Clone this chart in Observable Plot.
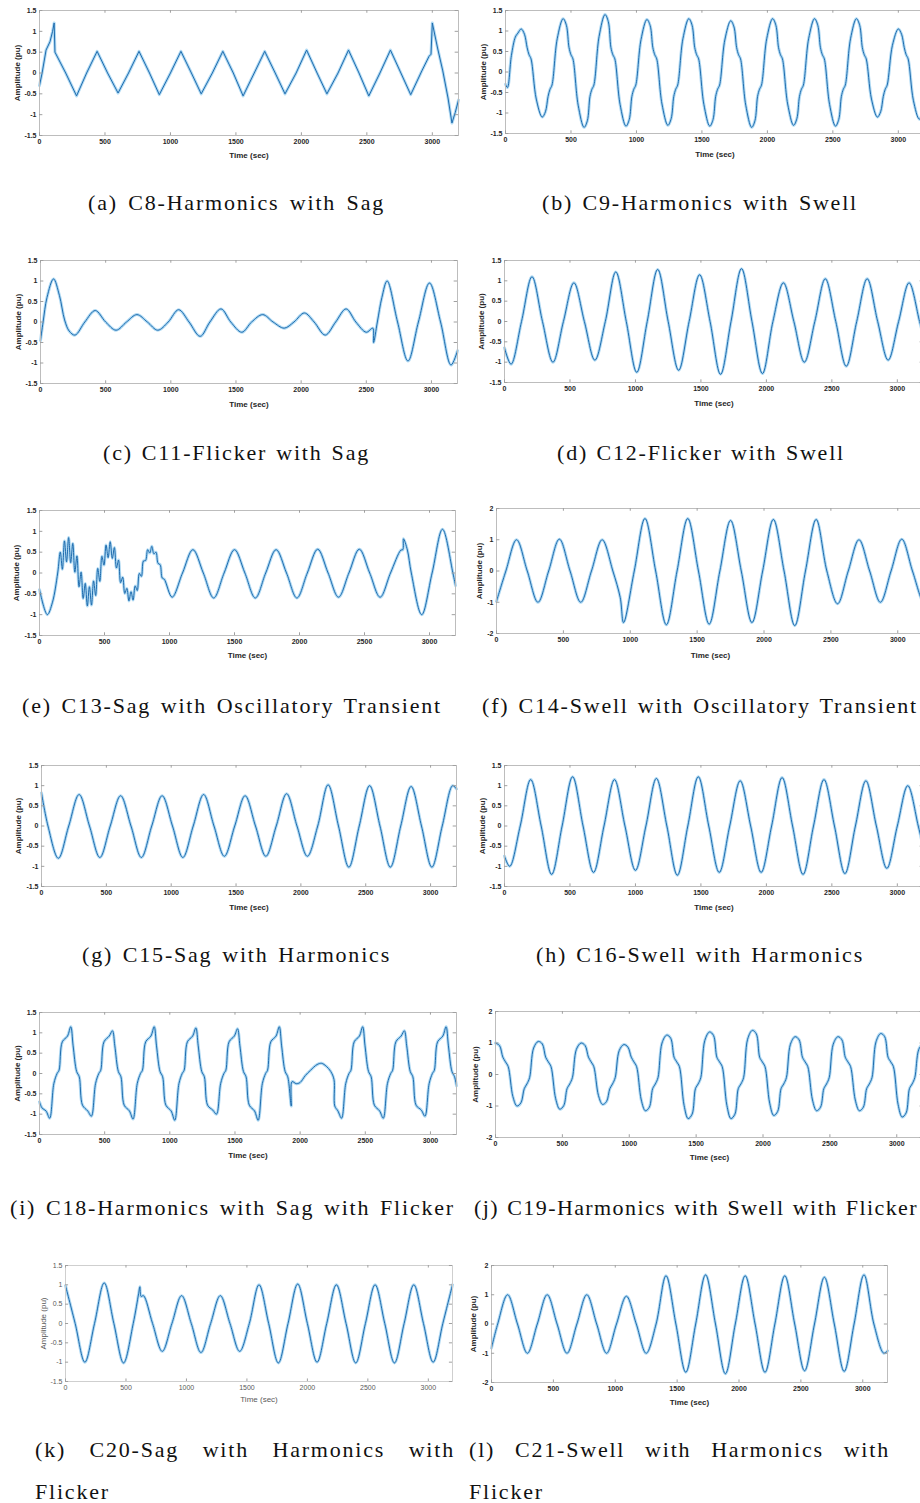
<!DOCTYPE html>
<html><head><meta charset="utf-8">
<script src="https://cdn.jsdelivr.net/npm/d3@7"></script>
<script src="https://cdn.jsdelivr.net/npm/@observablehq/plot@0.6"></script>
<style>
html,body{margin:0;padding:0;background:#fff;}
#fig{position:relative;width:920px;height:1503px;overflow:hidden;background:#fff;}
.panel{position:absolute;overflow:hidden;}
.cap{position:absolute;font-family:"Liberation Serif","Times New Roman",serif;font-size:22px;letter-spacing:1.8px;line-height:24px;color:#111;text-align:justify;text-align-last:justify;}
.cap.left{text-align:left;text-align-last:left;}
</style></head><body><div id="fig"></div>
<script>
// ---- tick labels ----
const xTicks = [0, 500, 1000, 1500, 2000, 2500, 3000];
const yTicks15 = [-1.5, -1, -0.5, 0, 0.5, 1, 1.5];
const yTicks2 = [-2, -1, 0, 1, 2];
const xLabel = "Time (sec)";
const yLabel = "Amplitude (pu)";

// ---- (a) C8 Harmonics with Sag ----
const aT = [0,20,50,80,100,112,118,200,283,360,440,520,600,680,760,840,915,1000,1080,1160,1235,1320,1400,1480,1555,1640,1720,1800,1875,1960,2040,2120,2195,2280,2360,2440,2515,2600,2680,2760,2835,2920,2975,2990,3000,3040,3080,3120,3150,3175,3200];
const aV = [-0.3,0,0.55,0.75,1.0,1.2,0.5,0,-0.55,0,0.52,0,-0.48,0,0.52,0,-0.52,0,0.52,0,-0.5,0,0.52,0,-0.55,0,0.52,0,-0.5,0,0.55,0,-0.5,0,0.55,0,-0.55,0,0.55,0,-0.52,0.05,0.4,0.45,1.2,0.6,0.05,-0.6,-1.2,-0.95,-0.65];

// ---- (b) C9 Harmonics with Swell ----
const bT = [0,15,45,75,95,
 120,145,165,180,195,235,280,305,325,340,355,395,
 440,465,485,500,515,555,600,625,645,660,675,715,
 760,785,805,820,835,875,920,945,965,980,995,1035,
 1080,1105,1125,1140,1155,1195,1240,1265,1285,1300,1315,1355,
 1400,1425,1445,1460,1475,1515,1560,1585,1605,1620,1635,1675,
 1720,1745,1765,1780,1795,1835,1880,1905,1925,1940,1955,1995,
 2040,2065,2085,2100,2115,2155,2200,2225,2245,2260,2275,2315,
 2360,2385,2405,2420,2435,2475,2520,2545,2565,2580,2595,2635,
 2680,2705,2725,2740,2755,2795,2840,2865,2885,2900,2915,2955,
 3000,3025,3045,3060,3075,3115,3160,3185,3200];
const bV = [-0.3,-0.38,0.4,0.85,0.95,
 1.05,0.92,0.6,0.42,0.32,-0.66,-1.1,-0.97,-0.6,-0.42,-0.32,0.81,
 1.3,1.14,0.6,0.42,0.32,-0.81,-1.35,-1.19,-0.6,-0.42,-0.32,0.87,
 1.4,1.23,0.6,0.42,0.32,-0.79,-1.32,-1.16,-0.6,-0.42,-0.32,0.79,
 1.28,1.13,0.6,0.42,0.32,-0.78,-1.3,-1.14,-0.6,-0.42,-0.32,0.81,
 1.3,1.14,0.6,0.42,0.32,-0.79,-1.32,-1.16,-0.6,-0.42,-0.32,0.78,
 1.25,1.1,0.6,0.42,0.32,-0.81,-1.35,-1.19,-0.6,-0.42,-0.32,0.81,
 1.3,1.14,0.6,0.42,0.32,-0.78,-1.3,-1.14,-0.6,-0.42,-0.32,0.81,
 1.3,1.14,0.6,0.42,0.32,-0.79,-1.32,-1.16,-0.6,-0.42,-0.32,0.81,
 1.3,1.14,0.6,0.42,0.32,-0.66,-1.1,-0.97,-0.6,-0.42,-0.32,0.65,
 1.05,0.92,0.6,0.42,0.32,-0.69,-1.15,-1.01,-0.8];

// ---- (c) C11 Flicker with Sag ----
const cT = [0,20,50,100,145,185,220,265,340,420,500,580,660,740,820,900,980,1060,1140,1225,1300,1385,1460,1545,1620,1705,1785,1870,1945,2025,2100,2185,2265,2345,2420,2500,2550,2556,2585,2620,2660,2740,2820,2900,2985,3070,3150,3200];
const cV = [-0.45,0,0.6,1.05,0.65,0.05,-0.22,-0.32,0,0.28,0,-0.2,0,0.18,0,-0.2,0,0.3,0,-0.35,0,0.32,0,-0.25,0,0.18,0,-0.15,0,0.22,0,-0.32,0,0.32,0,-0.25,-0.15,-0.5,0,0.6,1.0,0,-0.95,0,0.95,0,-1.05,-0.7];

// ---- (d) C12 Flicker with Swell ----
const dT = [0,50,130,210,290,370,450,530,610,690,770,850,930,1010,1090,1170,1250,1330,1410,1490,1570,1650,1730,1810,1890,1970,2050,2130,2210,2290,2370,2450,2530,2610,2690,2770,2850,2930,3010,3090,3170,3200];
const dV = [-0.65,-1.05,0,1.1,0,-1.0,0,0.95,0,-0.95,0,1.22,0,-1.25,0,1.28,0,-1.2,0,1.15,0,-1.3,0,1.3,0,-1.28,0,0.95,0,-1.0,0,1.05,0,-1.1,0,1.05,0,-0.95,0,0.95,0,-0.35];

// ---- (e) C13 Sag with Oscillatory Transient ----
const eT = [0,60,100,140,
 160,176,192,208,224,240,256,272,288,304,
 320,336,352,368,384,400,416,432,448,464,
 480,496,512,528,544,560,576,592,608,624,
 640,656,672,688,704,720,736,752,768,784,
 800,816,832,848,864,880,896,912,928,944,960,
 1020,1100,1180,1260,1340,1420,1500,1580,1660,1740,1820,1900,1980,2060,2140,2220,2300,2380,2460,2540,2620,2700,2780,
 2795,2800,2830,2860,2940,3020,3100,3180,3200];
const eV = [-0.4,-1.0,-0.7,0,
 0.50,0.09,0.77,0.27,0.85,0.25,0.71,0.02,0.41,-0.33,
 0.02,-0.61,-0.25,-0.79,-0.33,-0.77,-0.19,-0.54,0.11,-0.20,
 0.40,0.19,0.67,0.37,0.75,0.35,0.61,0.12,0.31,-0.23,
 -0.10,-0.49,-0.37,-0.67,-0.45,-0.65,-0.31,-0.42,-0.01,-0.08,
 0.29,0.30,0.56,0.48,0.64,0.46,0.50,0.23,0.20,-0.12,-0.15,
 -0.58,0,0.56,0,-0.6,0,0.56,0,-0.6,0,0.56,0,-0.6,0,0.57,0,-0.58,0,0.57,0,-0.58,0,0.55,
 0.56,0.82,0.55,0,-1.0,0,1.05,0,-0.3];

// ---- (f) C14 Swell with Oscillatory Transient ----
const fT = [0,70,150,230,310,390,470,550,630,710,790,870,925,950,1030,1110,1190,1270,1350,1430,1510,1590,1670,1750,1830,1910,1990,2070,2150,2230,2310,2390,2470,2550,2630,2710,2790,2870,2950,3030,3110,3190,3200];
const fV = [-0.97,0,1.0,0,-1.0,0,1.02,0,-1.0,0,1.0,0,-0.85,-1.65,0,1.68,0,-1.72,0,1.68,0,-1.7,0,1.62,0,-1.65,0,1.65,0,-1.75,0,1.65,0,-1.05,0,1.0,0,-1.0,0,1.02,0,-1.0,-0.98];

// ---- (g) C15 Sag with Harmonics ----
const gT = [0,50,130,210,290,370,450,530,610,690,770,850,930,1010,1090,1170,1250,1330,1410,1490,1570,1650,1730,1810,1890,1970,2050,2130,2210,2290,2370,2450,2530,2610,2690,2770,2850,2930,3010,3090,3170,3200];
const gV = [0.82,0,-0.8,0,0.78,0,-0.78,0,0.75,0,-0.78,0,0.75,0,-0.78,0,0.78,0,-0.75,0,0.75,0,-0.75,0,0.8,0,-0.75,0,1.02,0,-1.02,0,1.0,0,-1.02,0,0.98,0,-1.02,0,1.0,0.92];

// ---- (h) C16 Swell with Harmonics ----
const hT = [0,40,120,200,280,360,440,520,600,680,760,840,920,1000,1080,1160,1240,1320,1400,1480,1560,1640,1720,1800,1880,1960,2040,2120,2200,2280,2360,2440,2520,2600,2680,2760,2840,2920,3000,3080,3160,3200];
const hV = [-0.75,-1.0,0,1.15,0,-1.2,0,1.22,0,-1.15,0,1.15,0,-1.1,0,1.18,0,-1.22,0,1.22,0,-1.15,0,1.12,0,-1.15,0,1.2,0,-1.2,0,1.15,0,-1.18,0,1.12,0,-1.05,0,1.0,0,-0.55];

// ---- (i) C18 Harmonics with Sag with Flicker ----
const iT = [0,20,50,78,110,135,150,175,215,
 240,258,285,305,330,370,398,430,455,470,495,535,
 560,578,605,625,650,690,718,750,775,790,815,855,
 880,898,925,945,970,1010,1038,1070,1095,1110,1135,1175,
 1200,1218,1245,1265,1290,1330,1358,1390,1415,1430,1455,1495,
 1520,1538,1565,1585,1610,1650,1678,1710,1735,1750,1775,1815,
 1840,1858,1885,1905,1932,
 1938,1970,2000,2040,2080,2130,2165,2200,2235,2260,
 2266,2290,2318,2350,2375,2390,2415,2455,
 2480,2498,2525,2545,2570,2610,2638,2670,2695,2710,2735,2775,
 2800,2818,2845,2865,2890,2930,2958,2990,3015,3030,3055,3095,
 3120,3138,3165,3185,3200];
const iV = [-0.7,-0.85,-0.92,-1.1,-0.25,0.0,0.08,0.78,0.92,
 1.15,0.68,0.05,-0.08,-0.78,-0.92,-1.05,-0.25,0.0,0.08,0.78,0.92,
 1.05,0.68,0.05,-0.08,-0.78,-0.92,-1.12,-0.25,0.0,0.08,0.78,0.92,
 1.15,0.68,0.05,-0.08,-0.78,-0.92,-1.15,-0.25,0.0,0.08,0.78,0.92,
 1.12,0.68,0.05,-0.08,-0.78,-0.9,-1.0,-0.25,0.0,0.08,0.78,0.92,
 1.1,0.68,0.05,-0.08,-0.78,-0.92,-1.15,-0.25,0.0,0.08,0.78,0.92,
 1.15,0.68,0.05,-0.08,-0.8,
 -0.2,-0.25,-0.22,-0.05,0.08,0.22,0.25,0.18,0.05,-0.15,
 -0.8,-0.92,-1.1,-0.25,0.0,0.08,0.78,0.92,
 1.15,0.68,0.05,-0.08,-0.78,-0.92,-1.1,-0.25,0.0,0.08,0.78,0.92,
 1.05,0.68,0.05,-0.08,-0.78,-0.9,-1.05,-0.25,0.0,0.08,0.78,0.92,
 1.15,0.68,0.05,-0.08,-0.3];

// ---- (j) C19 Harmonics with Swell with Flicker ----
const jT = [0,30,55,75,95,130,160,190,215,235,255,285,
 320,350,375,395,415,450,480,510,535,555,575,605,
 640,670,695,715,735,770,800,830,855,875,895,925,
 960,990,1015,1035,1055,1090,1120,1150,1175,1195,1215,1245,
 1280,1310,1335,1355,1375,1410,1440,1470,1495,1515,1535,1565,
 1600,1630,1655,1675,1695,1730,1760,1790,1815,1835,1855,1885,
 1920,1950,1975,1995,2015,2050,2080,2110,2135,2155,2175,2205,
 2240,2270,2295,2315,2335,2370,2400,2430,2455,2475,2495,2525,
 2560,2590,2615,2635,2655,2690,2720,2750,2775,2795,2815,2845,
 2880,2910,2935,2955,2975,3010,3040,3070,3095,3115,3135,3165,
 3200];
const jV = [1.0,0.92,0.55,0.4,0.25,-0.7,-1.0,-0.9,-0.45,-0.3,-0.1,0.84,
 1.05,0.97,0.55,0.4,0.25,-0.77,-1.1,-0.99,-0.45,-0.3,-0.1,0.8,
 1.0,0.92,0.55,0.4,0.25,-0.67,-0.95,-0.86,-0.45,-0.3,-0.1,0.76,
 0.95,0.87,0.55,0.4,0.25,-0.81,-1.15,-1.04,-0.45,-0.3,-0.1,1.0,
 1.25,1.15,0.55,0.4,0.25,-0.98,-1.4,-1.26,-0.45,-0.3,-0.1,1.08,
 1.35,1.24,0.55,0.4,0.25,-0.98,-1.4,-1.26,-0.45,-0.3,-0.1,1.12,
 1.4,1.29,0.55,0.4,0.25,-0.91,-1.3,-1.17,-0.45,-0.3,-0.1,0.96,
 1.2,1.1,0.55,0.4,0.25,-0.81,-1.15,-1.04,-0.45,-0.3,-0.1,0.96,
 1.2,1.1,0.55,0.4,0.25,-0.81,-1.15,-1.04,-0.45,-0.3,-0.1,1.04,
 1.3,1.2,0.55,0.4,0.25,-0.95,-1.35,-1.22,-0.45,-0.3,-0.1,0.8,
 1.0];

// ---- (k) C20 Sag with Harmonics with Flicker ----
const kT = [0,80,160,240,320,400,480,560,605,615,625,645,720,800,880,960,1040,1120,1200,1280,1360,1440,1520,1600,1680,1760,1840,1920,2000,2080,2160,2240,2320,2400,2480,2560,2640,2720,2800,2880,2960,3040,3120,3200];
const kV = [0.98,0,-1.0,0,1.05,0,-1.02,0,0.78,0.95,0.7,0.72,0,-0.72,0,0.72,0,-0.75,0,0.72,0,-0.72,0,1.0,0,-1.02,0,1.02,0,-1.0,0,1.0,0,-1.02,0,1.0,0,-1.02,0,1.0,0,-1.0,0,1.0];

// ---- (l) C21 Swell with Harmonics with Flicker ----
const lT = [0,50,130,210,290,370,450,530,610,690,770,850,930,1010,1090,1170,1250,1330,1410,1490,1570,1650,1730,1810,1890,1970,2050,2130,2210,2290,2370,2450,2530,2610,2690,2770,2850,2930,3010,3090,3170,3200];
const lV = [-0.82,0,1.0,0,-1.0,0,1.0,0,-1.0,0,1.0,0,-1.0,0,0.95,0,-1.0,0,1.65,0,-1.65,0,1.68,0,-1.7,0,1.65,0,-1.65,0,1.65,0,-1.6,0,1.6,0,-1.62,0,1.68,0,-1.0,-0.92];

// ---- captions ----
const captions = [
  {text:"(a) C8-Harmonics with Sag", left:88, width:297, top:191},
  {text:"(b) C9-Harmonics with Swell", left:542, width:316, top:191},
  {text:"(c) C11-Flicker with Sag", left:103, width:267, top:441},
  {text:"(d) C12-Flicker with Swell", left:557, width:288, top:441},
  {text:"(e) C13-Sag with Oscillatory Transient", left:22, width:420, top:694},
  {text:"(f) C14-Swell with Oscillatory Transient", left:482, width:436, top:694},
  {text:"(g) C15-Sag with Harmonics", left:82, width:309, top:943},
  {text:"(h) C16-Swell with Harmonics", left:536, width:328, top:943},
  {text:"(i) C18-Harmonics with Sag with Flicker", left:10, width:445, top:1196},
  {text:"(j) C19-Harmonics with Swell with Flicker", left:474, width:444, top:1196, ls:"1.4px"},
  {text:"(k) C20-Sag with Harmonics with", left:35, width:420, top:1438},
  {text:"Flicker", left:35, width:120, top:1480, cls:"left"},
  {text:"(l) C21-Swell with Harmonics with", left:469, width:421, top:1438},
  {text:"Flicker", left:469, width:120, top:1480, cls:"left"}
];

const panels = [
  {t:aT, v:aV, curve:"linear", yd:[-1.5,1.5], yt:yTicks15, L:39, R:458, T:10, B:135, ydx:-22, xdy:20},
  {t:bT, v:bV, curve:"catmull-rom", yd:[-1.5,1.5], yt:yTicks15, L:505, R:924, T:10, B:133, ydx:-22, xdy:21},
  {t:cT, v:cV, curve:"catmull-rom", yd:[-1.5,1.5], yt:yTicks15, L:40, R:457, T:260, B:383, ydx:-22, xdy:21},
  {t:dT, v:dV, curve:"catmull-rom", yd:[-1.5,1.5], yt:yTicks15, L:504, R:923, T:260, B:382, ydx:-23, xdy:21},
  {t:eT, v:eV, curve:"catmull-rom", yd:[-1.5,1.5], yt:yTicks15, L:39, R:455, T:510, B:635, ydx:-23, xdy:20},
  {t:fT, v:fV, curve:"catmull-rom", yd:[-2,2], yt:yTicks2, L:496, R:924, T:508, B:633, ydx:-17, xdy:22},
  {t:gT, v:gV, curve:"catmull-rom", yd:[-1.5,1.5], yt:yTicks15, L:41, R:456, T:765, B:886, ydx:-23, xdy:21},
  {t:hT, v:hV, curve:"catmull-rom", yd:[-1.5,1.5], yt:yTicks15, L:504, R:923, T:765, B:886, ydx:-22, xdy:21},
  {t:iT, v:iV, curve:"catmull-rom", yd:[-1.5,1.5], yt:yTicks15, L:39, R:456, T:1012, B:1134, ydx:-22, xdy:21},
  {t:jT, v:jV, curve:"catmull-rom", yd:[-2,2], yt:yTicks2, L:495, R:923, T:1011, B:1137, ydx:-20, xdy:20},
  {t:kT, v:kV, curve:"catmull-rom", yd:[-1.5,1.5], yt:yTicks15, L:65, R:452, T:1265, B:1381, ydx:-22, xdy:18, light:true},
  {t:lT, v:lV, curve:"catmull-rom", yd:[-2,2], yt:yTicks2, L:491, R:887, T:1265, B:1382, ydx:-18, xdy:20}
];

const fig = document.getElementById("fig");
const ML = 44, MR = 6, MT = 6, MB = 34;

for (const p of panels) {
  if (p.t.length !== p.v.length) console.error("length mismatch", p.t.length, p.v.length);
  const data = p.t.map((t, i) => ({t, v: p.v[i]}));
  const w = p.R - p.L, h = p.B - p.T;
  const [y0, y1] = p.yd;
  const tl = (y1 - y0) * 0.022;
  const txl = 3200 * 0.008;
  const fill = p.light ? "#5a5a5a" : "#262626";
  const svg = Plot.plot({
    width: ML + w + MR, height: MT + h + MB,
    marginLeft: ML, marginRight: MR, marginTop: MT, marginBottom: MB,
    style: {fontFamily: "'Liberation Sans', Arial, sans-serif", fontSize: "7px",
            fontWeight: p.light ? "normal" : "bold", color: fill,
            background: "transparent", maxWidth: "none"},
    x: {domain: [0, 3200]},
    y: {domain: p.yd},
    marks: [
      Plot.line(data, {x: "t", y: "v", curve: p.curve, stroke: "#5fb3e8", strokeWidth: 3, strokeOpacity: 0.5}),
      Plot.line(data, {x: "t", y: "v", curve: p.curve, stroke: "#1f6cae", strokeWidth: 1}),
      Plot.frame({stroke: p.light ? "#cfcfcf" : "#bdbdbd"}),
      Plot.ruleX(xTicks, {x: d => d, y1: y0, y2: y0 + tl, stroke: "#a0a0a0"}),
      Plot.ruleX(xTicks, {x: d => d, y1: y1, y2: y1 - tl, stroke: "#a0a0a0"}),
      Plot.ruleY(p.yt, {y: d => d, x1: 0, x2: txl, stroke: "#a0a0a0"}),
      Plot.ruleY(p.yt, {y: d => d, x1: 3200, x2: 3200 - txl, stroke: "#a0a0a0"}),
      Plot.axisX({ticks: xTicks, tickSize: 0, tickPadding: 4, tickFormat: d => String(d), label: null}),
      Plot.axisY({ticks: p.yt, tickSize: 0, tickPadding: 3, tickFormat: d => String(d), label: null}),
      Plot.text([xLabel], {frameAnchor: "bottom", dy: p.xdy, text: d => d, fontSize: 8, lineAnchor: "middle", textAnchor: "middle", fill}),
      Plot.text([yLabel], {frameAnchor: "left", dx: p.ydx, rotate: -90, text: d => d, fontSize: 8, lineAnchor: "middle", textAnchor: "middle", fill})
    ]
  });
  const div = document.createElement("div");
  div.className = "panel";
  div.style.left = (p.L - ML) + "px";
  div.style.top = (p.T - MT) + "px";
  div.style.width = (ML + w + MR) + "px";
  div.style.height = (MT + h + MB) + "px";
  div.appendChild(svg);
  fig.appendChild(div);
}

for (const c of captions) {
  const d = document.createElement("div");
  d.className = "cap" + (c.cls ? " " + c.cls : "");
  d.style.left = c.left + "px";
  d.style.top = c.top + "px";
  d.style.width = c.width + "px";
  if (c.ls) d.style.letterSpacing = c.ls;
  d.textContent = c.text;
  fig.appendChild(d);
}
</script></body></html>
